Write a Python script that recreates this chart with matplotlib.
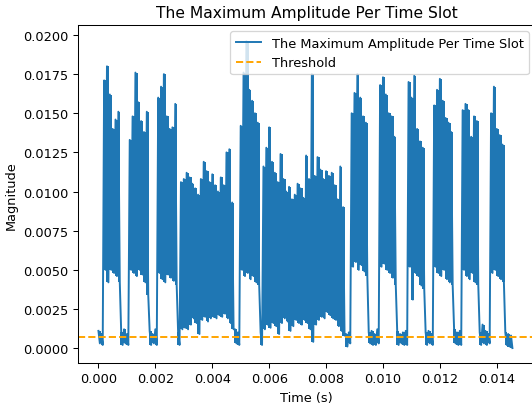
import numpy as np
import matplotlib.pyplot as plt

# one time slot = 0.1 ms; each slot has a peak and a trough value
slot_dt = 0.0001
threshold = 0.0007

peak = [
    0.0011, 0.0009,                                          # gap
    0.0171, 0.0180, 0.0162, 0.0140, 0.0146, 0.0151,          # burst
    0.0010, 0.0012, 0.0009,
    0.0133, 0.0148, 0.0176, 0.0157, 0.0145, 0.0138, 0.0151,
    0.0011, 0.0009, 0.0012,
    0.0160, 0.0167, 0.0175, 0.0148, 0.0140, 0.0141, 0.0156,
    0.0010,
    0.0106, 0.0108, 0.0112, 0.0109, 0.0105, 0.0102, 0.0098, 0.0108, 0.0119, 0.0113,
    0.0106, 0.0111, 0.0104, 0.0100, 0.0109, 0.0104, 0.0125, 0.0127, 0.0093,
    0.0012, 0.0010,
    0.0142, 0.0176, 0.0196, 0.0165, 0.0158, 0.0150, 0.0144,
    0.0010,
    0.0116, 0.0128, 0.0141, 0.0119, 0.0112, 0.0106, 0.0124, 0.0108, 0.0100, 0.0103,
    0.0095, 0.0098, 0.0105, 0.0102, 0.0096, 0.0123, 0.0108, 0.0175, 0.0110, 0.0122,
    0.0114, 0.0108, 0.0113, 0.0110, 0.0112, 0.0104, 0.0095, 0.0116, 0.0090,
    0.0009, 0.0010,
    0.0150, 0.0163, 0.0175, 0.0160, 0.0148, 0.0144,
    0.0010, 0.0011, 0.0009, 0.0012,
    0.0168, 0.0173, 0.0162, 0.0150, 0.0148, 0.0135,
    0.0011, 0.0009, 0.0010, 0.0011,
    0.0170, 0.0160, 0.0174, 0.0140, 0.0132, 0.0128,
    0.0010, 0.0011, 0.0009,
    0.0155, 0.0165, 0.0172, 0.0158, 0.0147, 0.0144, 0.0138,
    0.0012, 0.0010, 0.0011,
    0.0152, 0.0156, 0.0152, 0.0135, 0.0148, 0.0145,
    0.0010, 0.0015, 0.0011, 0.0009,
    0.0150, 0.0167, 0.0140, 0.0136, 0.0130,
    0.0010, 0.0009, 0.0008,
]

trough = [
    0.0003, 0.0002,
    0.0050, 0.0042, 0.0050, 0.0048, 0.0046, 0.0042,
    0.0002, 0.0003, 0.0002,
    0.0050, 0.0048, 0.0046, 0.0050, 0.0047, 0.0042, 0.0034,
    0.0002, 0.0003, 0.0002,
    0.0048, 0.0044, 0.0042, 0.0047, 0.0045, 0.0043, 0.0040,
    0.0002,
    0.0012, 0.0013, 0.0012, 0.0015, 0.0019, 0.0016, 0.0009, 0.0018, 0.0020, 0.0017,
    0.0019, 0.0020, 0.0019, 0.0021, 0.0020, 0.0022, 0.0019, 0.0016, 0.0012,
    0.0003, 0.0002,
    0.0050, 0.0046, 0.0048, 0.0044, 0.0046, 0.0042, 0.0040,
    0.0002,
    0.0012, 0.0015, 0.0013, 0.0016, 0.0014, 0.0009, 0.0016, 0.0019, 0.0017, 0.0011,
    0.0014, 0.0018, 0.0016, 0.0015, 0.0018, 0.0016, 0.0012, 0.0004, 0.0015, 0.0018,
    0.0020, 0.0019, 0.0023, 0.0021, 0.0019, 0.0018, 0.0014, 0.0011, 0.0008,
    0.0001, 0.0003,
    0.0052, 0.0055, 0.0050, 0.0053, 0.0049, 0.0046,
    0.0003, 0.0002, 0.0002, 0.0003,
    0.0052, 0.0054, 0.0050, 0.0048, 0.0045, 0.0040,
    0.0002, 0.0003, 0.0002, 0.0002,
    0.0052, 0.0031, 0.0048, 0.0046, 0.0040, 0.0038,
    0.0002, 0.0003, 0.0002,
    0.0052, 0.0048, 0.0046, 0.0050, 0.0044, 0.0042, 0.0040,
    0.0003, 0.0002, 0.0002,
    0.0050, 0.0046, 0.0044, 0.0048, 0.0042, 0.0040,
    0.0002, 0.0003, 0.0002, 0.0003,
    0.0048, 0.0050, 0.0046, 0.0044, 0.0042,
    0.0002, 0.0001, 0.0000,
]

t = np.arange(len(peak)) * slot_dt
# peak then trough inside every slot
time = np.column_stack([t, t + slot_dt / 2]).ravel()
amp = np.column_stack([peak, trough]).ravel()

# slightly smaller than 100 dpi, as in the original export
fig = plt.figure(figsize=(532 / 93, 409 / 93), dpi=93)
ax = fig.add_axes([0.146, 0.109, 0.86, 0.8274])

blue = '#1f77b4'
# the signal oscillates too fast to resolve: fill each slot from trough to peak
ax.fill_between(t + slot_dt / 4, trough, peak, step='mid', color=blue, linewidth=0)
ax.plot(time, amp, color=blue, linewidth=1.5,
        label='The Maximum Amplitude Per Time Slot')
ax.axhline(threshold, color='orange', linestyle='--', label='Threshold')

ax.set_xlim(-0.00073, 0.01535)
ax.set_ylim(-0.00098, 0.02064)
ax.set_xticks(np.arange(0, 0.0141, 0.002))
ax.set_yticks(np.arange(0, 0.0201, 0.0025))

ax.set_title('The Maximum Amplitude Per Time Slot')
ax.set_xlabel('Time (s)')
ax.set_ylabel('Magnitude')
ax.legend(loc='upper right')

fig.savefig('out.png', dpi=93)
